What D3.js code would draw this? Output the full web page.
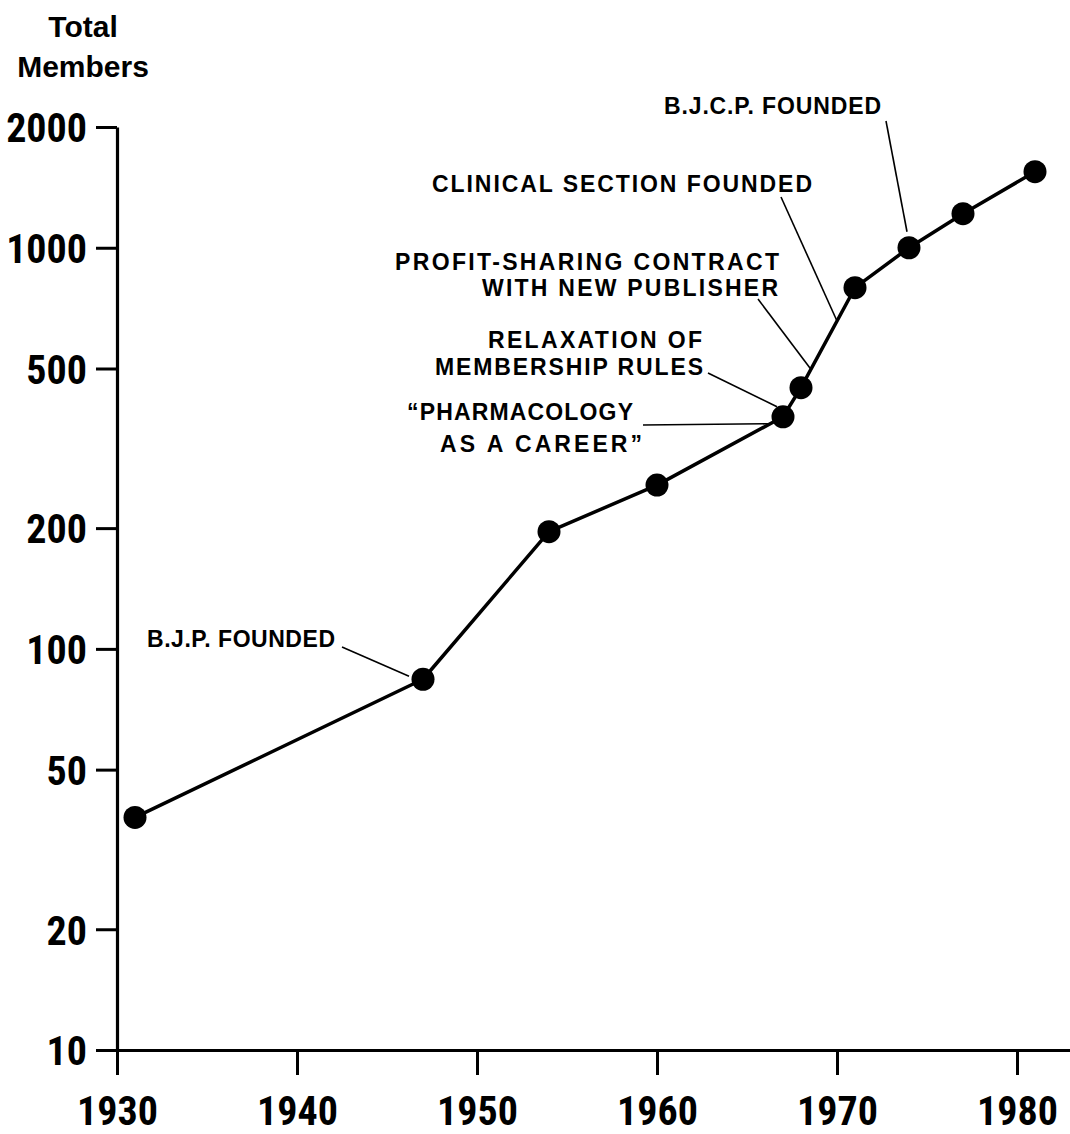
<!DOCTYPE html>
<html>
<head>
<meta charset="utf-8">
<script src="https://cdn.jsdelivr.net/npm/d3@7"></script>
<style>
	body { margin: 0; background: #fff; }
	svg { display: block; }
	.tick-label { font-family: "Liberation Sans Narrow", "Roboto Condensed", "DejaVu Sans Condensed", sans-serif; font-weight: bold; font-size: 40px; fill: #000; }
	.note { font-family: "Liberation Sans", Arial, sans-serif; font-weight: bold; font-size: 23px; fill: #000; }
</style>
</head>
<body>
<svg width="1070" height="1134"></svg>
<script>
// membership by year
const years = [1931, 1947, 1954, 1960, 1967, 1968, 1971, 1974, 1977, 1981]
const members = [38, 84, 196, 256, 379, 448, 795, 1000, 1216, 1547]

const yTicks = [10, 20, 50, 100, 200, 500, 1000, 2000]
const xTicks = [1930, 1940, 1950, 1960, 1970, 1980]

// annotations: year = where the leader meets the curve, off = pixel nudge to the dot's edge
const notes = [
	{ lines: ["B.J.C.P. FOUNDED"], x: [664], base: [114], w: [217], from: [886, 121], year: 1974, off: [-2, -16] },
	{ lines: ["CLINICAL SECTION FOUNDED"], x: [432], base: [192], w: [380], from: [781, 197], year: 1970, off: [0, 0] },
	{ lines: ["PROFIT-SHARING CONTRACT", "WITH NEW PUBLISHER"], x: [395, 482], base: [270, 296], w: [384, 296], from: [758, 299], year: 1968.55, off: [0, 0] },
	{ lines: ["RELAXATION OF", "MEMBERSHIP RULES"], x: [488, 435], base: [348, 375], w: [214, 268], from: [708, 373], year: 1967, off: [-6, -10] },
	{ lines: ["\u201CPHARMACOLOGY", "AS A CAREER\u201D"], x: [407, 440], base: [420, 452], w: [226, 202], from: [643, 425], year: 1967, off: [-15, 7] },
	{ lines: ["B.J.P. FOUNDED"], x: [147], base: [647], w: [188], from: [342, 647], year: 1947, off: [-14, -3] },
]

const data = years.map((yr, i) => ({ year: yr, value: members[i] }))

var svg = d3.select("svg")

var x = d3.scaleLinear().domain([1930, 1983]).range([117, 1071])
var y = d3.scaleLog().domain([10, 2000]).range([1050, 127])

// y axis
var yAxis = svg
	.append("g")
	.attr("transform", "translate(" + x(1930) + ",0)")
	.call(
		d3.axisLeft(y)
			.tickValues(yTicks)
			.tickFormat(d3.format("d"))
			.tickSize(21)
			.tickSizeOuter(0)
			.tickPadding(9)
	)
yAxis.select(".domain").attr("stroke", "#000").attr("stroke-width", 3.2)
yAxis.selectAll(".tick line").attr("stroke", "#000").attr("stroke-width", 3)
yAxis.selectAll(".tick text").attr("class", "tick-label").attr("font-size", null).attr("font-family", null).attr("dy", "0.37em")

// x axis
var xAxis = svg
	.append("g")
	.attr("transform", "translate(0," + y(10) + ")")
	.call(
		d3.axisBottom(x)
			.tickValues(xTicks)
			.tickFormat(d3.format("d"))
			.tickSize(25)
			.tickSizeOuter(0)
	)
xAxis.select(".domain").attr("stroke", "#000").attr("stroke-width", 3.2)
xAxis.selectAll(".tick line").attr("stroke", "#000").attr("stroke-width", 3)
xAxis.selectAll(".tick text").attr("class", "tick-label").attr("font-size", null).attr("font-family", null).attr("y", 75).attr("dy", null)

// y axis title
svg.append("text").attr("class", "note").attr("x", 83).attr("y", 37)
	.attr("text-anchor", "middle").style("font-size", "30px").text("Total")
svg.append("text").attr("class", "note").attr("x", 83).attr("y", 77)
	.attr("text-anchor", "middle").style("font-size", "30px").text("Members")

// point on the curve for a (possibly fractional) year, interpolated on the log scale
function pointAt(yr) {
	let i = d3.bisectLeft(years, yr)
	if (years[i] === yr) return [x(yr), y(members[i])]
	const a = data[i - 1], b = data[i]
	const t = (yr - a.year) / (b.year - a.year)
	return [x(yr), y(a.value) + t * (y(b.value) - y(a.value))]
}

// leaders
notes.forEach(function (n) {
	const p = pointAt(n.year)
	svg.append("line")
		.attr("x1", n.from[0]).attr("y1", n.from[1])
		.attr("x2", p[0] + n.off[0]).attr("y2", p[1] + n.off[1])
		.attr("stroke", "#000").attr("stroke-width", 1.6)
	n.lines.forEach(function (t, j) {
		svg.append("text")
			.attr("class", "note")
			.attr("x", n.x[j])
			.attr("y", n.base[j])
			.attr("textLength", n.w[j])
			.attr("lengthAdjust", "spacing")
			.text(t)
	})
})

// series
var line = d3.line()
	.x(function (d) { return x(d.year) })
	.y(function (d) { return y(d.value) })

svg.append("path")
	.datum(data)
	.attr("d", line)
	.attr("fill", "none")
	.attr("stroke", "#000")
	.attr("stroke-width", 3.5)
	.attr("stroke-linejoin", "round")

svg.selectAll(".dot")
	.data(data)
	.enter()
	.append("circle")
	.attr("class", "dot")
	.attr("cx", function (d) { return x(d.year) })
	.attr("cy", function (d) { return y(d.value) })
	.attr("r", 11.5)
	.attr("fill", "#000")
</script>
</body>
</html>
